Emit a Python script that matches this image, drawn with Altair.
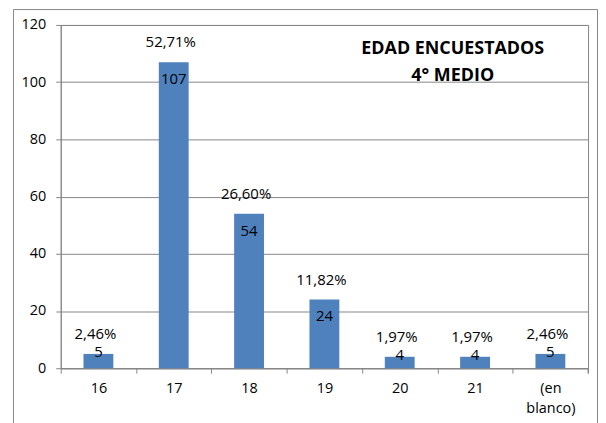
import altair as alt
import pandas as pd

categories = ["16", "17", "18", "19", "20", "21", "(en blanco)"]
counts = [5, 107, 54, 24, 4, 4, 5]
percents = ["2,46%", "52,71%", "26,60%", "11,82%", "1,97%", "1,97%", "2,46%"]
title_lines = ["EDAD ENCUESTADOS", "4° MEDIO"]
y_ticks = [0, 20, 40, 60, 80, 100, 120]

df = pd.DataFrame({"edad": categories, "n": counts, "pct": percents})

FONT = "Open Sans"
GRID = "#868686"
BLUE = "#4F81BD"
W, H = 530, 345

base = alt.Chart(df)

x_enc = alt.X(
    "edad:N",
    sort=categories,
    scale=alt.Scale(paddingInner=0, paddingOuter=0),
    axis=alt.Axis(
        title=None,
        labelAngle=0,
        tickBand="extent",
        tickSize=5,
        tickColor=GRID,
        domainColor=GRID,
        labelFont=FONT,
        labelFontSize=14.5,
        labelColor="#000000",
        labelBaseline="alphabetic",
        labelPadding=19,
        labelLineHeight=21,
        labelExpr="datum.value == '(en blanco)' ? ['(en', 'blanco)'] : datum.label",
    ),
)
y_enc = alt.Y(
    "n:Q",
    scale=alt.Scale(domain=[0, 120], nice=False),
    axis=alt.Axis(
        title=None,
        values=y_ticks,
        tickSize=5,
        tickColor=GRID,
        domainColor=GRID,
        gridColor=GRID,
        gridOpacity=1,
        labelFont=FONT,
        labelFontSize=14.5,
        labelColor="#000000",
        labelPadding=10,
    ),
)

frame = alt.Chart(alt.Data(values=[{}])).mark_rect(
    fill=None, stroke=GRID, strokeWidth=1
).encode(
    x=alt.value(-47.5), x2=alt.value(539.5), y=alt.value(-15.5), y2=alt.value(460)
)

bars = base.mark_bar(color=BLUE, size=30).encode(x=x_enc, y=y_enc)

val_big = base.transform_filter("datum.n >= 20").mark_text(
    font=FONT, fontSize=15, baseline="alphabetic", dy=22, color="#000000"
).encode(x=alt.X("edad:N", sort=categories), y="n:Q", text="n:Q")

val_small = base.transform_filter("datum.n < 20").mark_text(
    font=FONT, fontSize=15, baseline="alphabetic", dy=3, color="#000000"
).encode(x=alt.X("edad:N", sort=categories), y="n:Q", text="n:Q")

pct = base.mark_text(
    font=FONT, fontSize=15, baseline="alphabetic", dy=-15, dx=-3, color="#000000"
).encode(x=alt.X("edad:N", sort=categories), y="n:Q", text="pct:N")

ttl = alt.Chart(alt.Data(values=[{}])).mark_text(
    font=FONT, fontSize=18, fontWeight="bold", baseline="alphabetic",
    lineHeight=27, align="center", color="#000000"
).encode(x=alt.value(394), y=alt.value(29), text=alt.value(title_lines))

right_tick = alt.Chart(alt.Data(values=[{}])).mark_rule(color=GRID).encode(
    x=alt.value(W), y=alt.value(H), y2=alt.value(H + 5)
)

chart = alt.layer(frame, bars, val_big, val_small, pct, ttl, right_tick).properties(
    width=W,
    height=H,
    autosize=alt.AutoSizeParams(type="none"),
    padding={"left": 53, "top": 16, "right": 10, "bottom": 54},
    background="#ffffff",
).configure_view(stroke=GRID, strokeWidth=1).configure_axis(grid=True).configure_axisX(grid=False)

chart.save("out.html", embed_options={"renderer": "svg", "actions": False})
